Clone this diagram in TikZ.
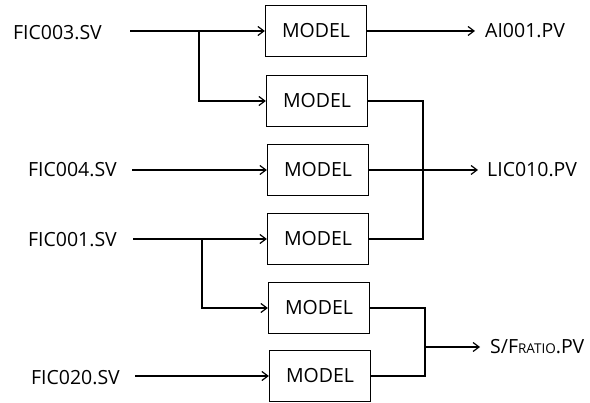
\documentclass[tikz,border=0pt]{standalone}
\usepackage{fontspec}
\setmainfont{Open Sans}
\usetikzlibrary{arrows.meta}
\begin{document}
\begin{tikzpicture}[x=1pt,y=-1pt,
  font=\fontsize{19.5}{21}\selectfont,
  modelbox/.style={draw,line width=1.3pt,minimum width=101pt,minimum height=51pt,inner sep=0pt},
  lbl/.style={inner sep=0pt},
  conn/.style={line width=1.3pt},
  arr/.style={conn,-{Straight Barb[length=6pt,width=9pt,line width=1.2pt]}}]
\useasboundingbox (0,0) rectangle (590,403);
% boxes
\node[modelbox] (m1) at (316,31) {MODEL};
\node[modelbox] (m2) at (317,101) {MODEL};
\node[modelbox] (m3) at (318,170) {MODEL};
\node[modelbox] (m4) at (318,239) {MODEL};
\node[modelbox] (m5) at (319,308) {MODEL};
\node[modelbox] (m6) at (320,376) {MODEL};
% inputs
\node[lbl,anchor=east] (i1) at (102,33) {FIC003.SV};
\node[lbl,anchor=east] (i2) at (117,170) {FIC004.SV};
\node[lbl,anchor=east] (i3) at (117,240) {FIC001.SV};
\node[lbl,anchor=east] (i4) at (120,378) {FIC020.SV};
% outputs
\node[lbl,anchor=west] (o1) at (485,31) {AI001.PV};
\node[lbl,anchor=west] (o2) at (487,170) {LIC010.PV};
\node[lbl,anchor=west] (o3) at (490,347) {S/F{\fontsize{13.5}{15}\selectfont RATIO}.PV};
% junctions
\coordinate (b1) at (199,31);
\coordinate (b2) at (202,239);
\coordinate (j1) at (423,170);
\coordinate (j2) at (425,347);
% input connectors
\draw[arr,shorten <=28pt] (i1.east |- m1.west) -- (m1.west);
\draw[arr] (b1) |- (m2.west);
\draw[arr,shorten <=15pt] (i2.east |- m3.west) -- (m3.west);
\draw[arr,shorten <=16pt] (i3.east |- m4.west) -- (m4.west);
\draw[arr] (b2) |- (m5.west);
\draw[arr,shorten <=15pt] (i4.east |- m6.west) -- (m6.west);
% output connectors
\draw[arr,shorten >=10pt] (m1.east) -- (o1.west);
\draw[conn] (m2.east) -| (j1);
\draw[conn] (m3.east) -- (j1);
\draw[conn] (m4.east) -| (j1);
\draw[arr,shorten >=9pt] (j1) -- (o2.west);
\draw[conn] (m5.east) -| (j2);
\draw[conn] (m6.east) -| (j2);
\draw[arr,shorten >=10pt] (j2) -- (o3.west |- j2);
\end{tikzpicture}
\end{document}
